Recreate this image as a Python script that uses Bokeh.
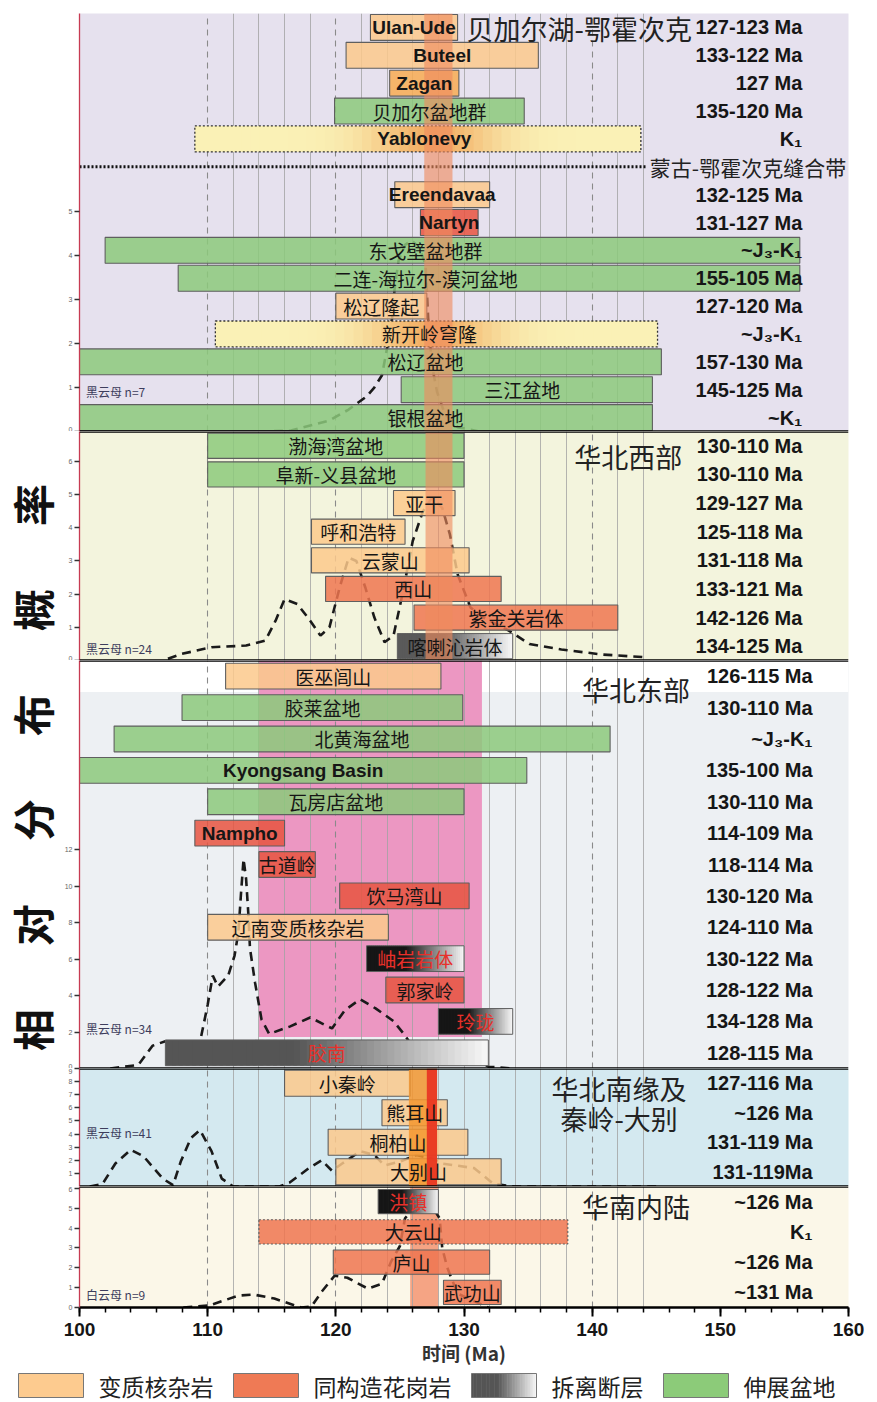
import math
from bokeh.plotting import figure
from bokeh.models import Range1d, LinearAxis, FixedTicker, BoxAnnotation, Span, Grid
from bokeh.layouts import column, row
from bokeh.core.properties import value
from bokeh.embed import file_html
from bokeh.resources import INLINE

CJK = "Noto Sans CJK SC"
LAT = "Liberation Sans"

# ---------------- data ----------------
# Panel 1: 贝加尔湖-鄂霍次克 / 蒙古
p1_names = ["Ulan-Ude", "Buteel", "Zagan", "贝加尔盆地群", "Yablonevy", "蒙古-鄂霍次克缝合带",
            "Ereendavaa", "Nartyn", "东戈壁盆地群", "二连-海拉尔-漠河盆地", "松辽隆起",
            "新开岭穹隆", "松辽盆地", "三江盆地", "银根盆地"]
p1_start = [122.7, 120.8, 124.2, 119.9, 109.0, 100.0, 124.6, 126.6, 102.0, 107.7, 120.0, 110.6, 100.0, 125.1, 100.0]
p1_end = [129.5, 135.8, 129.6, 134.7, 143.8, 144.3, 132.0, 131.1, 156.2, 156.2, 127.1, 145.1, 145.4, 144.7, 144.7]
p1_kind = ["mcc", "mcc", "mcc2", "basin", "dome", "suture", "mcc", "granite2", "basin", "basin",
           "mcc", "dome", "basin", "basin", "basin"]
p1_age = ["127-123 Ma", "133-122 Ma", "127 Ma", "135-120 Ma", "K₁", "", "132-125 Ma", "131-127 Ma",
          "~J₃-K₁", "155-105 Ma", "127-120 Ma", "~J₃-K₁", "157-130 Ma", "145-125 Ma", "~K₁"]
p1_dens_x = [114, 116.5, 119.5, 121, 122.4, 123.0, 123.6, 124.0, 124.4, 124.6, 124.9, 125.4, 125.9,
             126.5, 127.0, 127.2, 127.5, 127.9, 128.5, 129.5, 131.2]
p1_dens_y = [0, 0.02, 0.25, 0.5, 0.8, 1.0, 1.28, 1.9, 2.6, 3.3, 3.9, 4.25, 4.35, 4.2, 3.8, 2.6, 1.5,
             0.9, 0.4, 0.1, 0]

# Panel 2: 华北西部
p2_names = ["渤海湾盆地", "阜新-义县盆地", "亚干", "呼和浩特", "云蒙山", "西山", "紫金关岩体", "喀喇沁岩体"]
p2_start = [110.0, 110.0, 124.5, 118.1, 118.1, 119.2, 126.1, 124.8]
p2_end = [130.0, 130.0, 129.3, 125.4, 130.4, 132.9, 142.0, 133.8]
p2_kind = ["basin", "basin", "mcc", "mcc", "mcc", "granite", "granite", "detach"]
p2_age = ["130-110 Ma", "130-110 Ma", "129-127 Ma", "125-118 Ma", "131-118 Ma", "133-121 Ma",
          "142-126 Ma", "134-125 Ma"]
p2_dens_x = [106.9, 108, 110.3, 113, 114.5, 115.3, 116, 117, 118, 118.8, 119.5, 120.3, 121, 121.6,
             122.3, 123, 123.8, 124.5, 125.2, 126, 126.8, 127.5, 128.3, 128.9, 129.5, 130.5, 131.5,
             133.5, 135.1, 137.6, 140.8, 144.1]
p2_dens_y = [0.05, 0.2, 0.4, 0.45, 0.6, 1.2, 1.85, 1.7, 1.2, 0.75, 1.0, 2.2, 3.1, 3.0, 2.2, 1.3, 0.55,
             0.75, 2.0, 3.6, 4.5, 4.9, 4.6, 3.8, 2.6, 1.6, 1.3, 0.9, 0.5, 0.33, 0.18, 0.1]

# Panel 3: 华北东部
p3_names = ["医巫闾山", "胶莱盆地", "北黄海盆地", "Kyongsang Basin", "瓦房店盆地", "Nampho", "古道岭",
            "饮马湾山", "辽南变质核杂岩", "岫岩岩体", "郭家岭", "玲珑", "胶南"]
p3_start = [111.4, 108.0, 102.7, 100.0, 110.0, 109.0, 114.0, 120.3, 110.0, 122.4, 123.9, 128.0, 106.7]
p3_end = [128.2, 129.9, 141.4, 134.9, 130.0, 116.0, 118.4, 130.4, 124.1, 130.0, 130.0, 133.8, 131.9]
p3_kind = ["mcc", "basin", "basin", "basin", "basin", "granite2", "granite2", "granite2", "mcc",
           "detach_black", "granite2", "detach_black", "detach_red"]
p3_age = ["126-115 Ma", "130-110 Ma", "~J₃-K₁", "135-100 Ma", "130-110 Ma", "114-109 Ma",
          "118-114 Ma", "130-120 Ma", "124-110 Ma", "130-122 Ma", "128-122 Ma", "134-128 Ma",
          "128-115 Ma"]
p3_dens_x = [102.4, 104.6, 105.7, 106.7, 107.9, 109.3, 110.0, 110.4, 110.8, 111.6, 112.1, 112.4,
             112.6, 112.8, 113.0, 113.2, 113.3, 113.7, 114.2, 114.8, 116.4, 118.0, 119.7, 120.7,
             121.9, 123.1, 124.5, 125.3, 126.1, 127.4, 129.1, 130.7, 131.9, 133.9]
p3_dens_y = [0, 0.2, 1.25, 1.5, 0.65, 1.1, 3.5, 5.1, 4.5, 5.1, 6.2, 7.5, 9.6, 11.5, 10.4, 8.2, 6.6,
             4.7, 2.7, 1.9, 2.3, 2.8, 2.2, 3.2, 3.8, 3.3, 2.6, 1.9, 1.1, 0.8, 1.0, 0.65, 0.1, 0]

# Panel 4: 华北南缘及秦岭-大别
p4_names = ["小秦岭", "熊耳山", "桐柏山", "大别山"]
p4_start = [116.0, 123.6, 119.4, 120.0]
p4_end = [125.8, 128.7, 130.3, 132.9]
p4_kind = ["mcc", "mcc", "mcc", "mcc"]
p4_age = ["127-116 Ma", "~126 Ma", "131-119 Ma", "131-119Ma"]
p4_dens_x = [100.8, 101.8, 102.8, 104.0, 105.0, 106.5, 107.3, 107.9, 108.7, 109.4, 110.3, 111.1,
             112.0, 115.6, 116.4, 117.9, 118.9, 119.7, 120.5, 121.9, 123.0, 123.8, 125.0, 126.3,
             127.5, 128.3, 130.8, 132.3, 133.9, 145.0]
p4_dens_y = [0, 0.2, 1.75, 2.8, 2.3, 0.6, 0.1, 1.9, 3.7, 4.3, 2.7, 0.6, 0, 0, 0.3, 1.4, 2.0, 1.2,
             1.75, 2.7, 2.4, 1.6, 1.9, 2.4, 2.1, 1.75, 1.4, 0.2, 0, 0]

# Panel 5: 华南内陆
p5_names = ["洪镇", "大云山", "庐山", "武功山"]
p5_start = [123.3, 114.0, 119.8, 128.4]
p5_end = [128.0, 138.1, 132.0, 132.9]
p5_kind = ["detach_black", "granite_dot", "granite", "granite"]
p5_age = ["~126 Ma", "K₁", "~126 Ma", "~131 Ma"]
p5_dens_x = [108.1, 110.1, 112.4, 113.6, 115.2, 117.3, 118.1, 118.9, 119.9, 120.9, 122.5, 123.6,
             124.3, 125.0, 125.4, 126.2, 127.0, 127.6, 128.1, 128.3, 128.7, 129.5, 131.9]
p5_dens_y = [0, 0.1, 0.6, 0.65, 0.45, 0, 0.05, 0.8, 1.6, 1.5, 0.95, 1.2, 2.3, 3.1, 4.5, 5.1, 5.3,
             5.0, 4.5, 3.0, 2.0, 0.7, 0]

# time windows (Ma) highlighted in each panel
p1_band = [126.9, 129.1]
p2_band = [127.0, 129.1]
p3_band = [114.0, 131.4]
p4_band_orange = [125.7, 127.9]
p4_band_red = [127.1, 127.9]
p5_band = [125.8, 128.0]

legend_labels = ["变质核杂岩", "同构造花岗岩", "拆离断层", "伸展盆地"]
legend_kinds = ["mcc", "granite", "detach", "basin"]

x_major = list(range(100, 161, 10))
x_minor = list(range(100, 161, 2))

# ---------------- styles ----------------
FILL = {"mcc": "#FBC98C", "mcc2": "#F7AC52", "granite": "#EF7650", "granite2": "#E8543F",
        "basin": "#8CC97B", "granite_dot": "#EF7650"}
DARK = {"detach": "#5a5a5a", "detach_black": "#161616", "detach_red": "#555555"}
TXT_RED = "#E8302A"
XR = Range1d(100, 160)
LEFT_B = 18          # panel border left of the frame (small density axes)
LAB_W = 79 - LEFT_B  # width of the big rotated y label column


def mix(c1, c2, t):
    a = [int(c1[i:i + 2], 16) for i in (1, 3, 5)]
    b = [int(c2[i:i + 2], 16) for i in (1, 3, 5)]
    return "#%02x%02x%02x" % tuple(int(round(a[k] + (b[k] - a[k]) * t)) for k in range(3))


def detach_color(dark):
    def f(xc, t):
        if t < 0.4:
            return dark
        return mix(dark, "#F8F8F8", (t - 0.4) / 0.6)
    return f


def dome_color(xc, t):
    w = 0.9 * math.exp(-((xc - 127.6) / 5.0) ** 2)
    return mix("#FAF1B6", "#F2A85C", w)


def add_strips(p, yv, s, e, fn, h, n=48):
    w = (e - s) / n
    ls = [s + w * j for j in range(n)]
    rs = [s + w * (j + 1) + (w * 0.6 if j < n - 1 else 0) for j in range(n)]
    cs = [fn(s + w * (j + 0.5), (j + 0.5) / n) for j in range(n)]
    p.hbar(y=[yv] * n, left=ls, right=rs, height=h, fill_color=cs, line_color=None)


def make_panel(names, dens_top, ticks, frame_h, bg, top_border=0, bottom_border=0):
    n = len(names)
    p = figure(width=769 + LEFT_B + 21, height=frame_h + top_border + bottom_border, x_range=XR,
               y_range=Range1d(0, n), output_backend="svg", toolbar_location=None,
               x_axis_location=None, y_axis_location=None, min_border_left=LEFT_B,
               min_border_right=21, min_border_top=top_border, min_border_bottom=bottom_border,
               background_fill_color=bg, border_fill_color="white", outline_line_color=None)
    p.xgrid.visible = False
    p.ygrid.visible = False
    p.extra_y_ranges = {"dens": Range1d(0, dens_top)}
    g = Grid(dimension=0,
             ticker=FixedTicker(ticks=[110, 120, 140],
                                minor_ticks=[t for t in range(112, 146, 2) if t not in (120, 140)]),
             grid_line_color="#8a8a8a", grid_line_dash="6 5", grid_line_width=1.1,
             minor_grid_line_color="#a2a2a2", minor_grid_line_width=0.8)
    p.add_layout(g)
    ax = LinearAxis(y_range_name="dens", ticker=FixedTicker(ticks=ticks),
                    axis_line_color="#C73A52", axis_line_width=1.3,
                    major_tick_out=5, major_tick_in=0, major_tick_line_color="#333333",
                    major_tick_line_width=1.5, minor_tick_out=0, minor_tick_in=0,
                    major_label_text_font_size="7px", major_label_text_color="#666666",
                    major_label_standoff=2)
    p.add_layout(ax, "left")
    return p


def finish_panel(p, names, starts, ends, kinds, ages, dx, dy, dens_top, bar_h, age_x, titles,
                 nlabel, nlabel_y, clamp, over_bands, top_span, bottom_span):
    n = len(names)
    Y = [n - 1 - i + 0.5 for i in range(n)]  # row centres, first name on top
    # density curve
    p.line(dx, dy, y_range_name="dens", line_dash="9 6", line_width=2.6, line_color="#1a1a1a")
    # simple bars
    for kk, dash in (("solid", "solid"), ("dot", "2 2")):
        idx = [i for i, k in enumerate(kinds) if k in FILL and ((k == "granite_dot") == (kk == "dot"))]
        if idx:
            p.hbar(y=[Y[i] for i in idx], left=[starts[i] for i in idx],
                   right=[ends[i] for i in idx], height=bar_h,
                   fill_color=[FILL[kinds[i]] for i in idx], fill_alpha=0.85,
                   line_color="#5f5f5f", line_width=1.1, line_dash=dash)
    # gradient bars
    for i, k in enumerate(kinds):
        if k in DARK:
            add_strips(p, Y[i], starts[i], ends[i], detach_color(DARK[k]), bar_h)
            p.hbar(y=[Y[i]], left=[starts[i]], right=[ends[i]], height=bar_h,
                   fill_color=None, line_color="#5f5f5f", line_width=1)
        elif k == "dome":
            add_strips(p, Y[i], starts[i], ends[i], dome_color, bar_h)
            p.hbar(y=[Y[i]], left=[starts[i]], right=[ends[i]], height=bar_h,
                   fill_color=None, line_color="#333333", line_width=1.3, line_dash="2 2")
        elif k == "suture":
            p.segment(x0=[starts[i]], y0=[Y[i]], x1=[ends[i]], y1=[Y[i]],
                      line_color="#111111", line_width=3, line_dash="2 2")
            p.text(x=[ends[i] + 0.2], y=[Y[i]], text=[names[i]], text_align="left",
                   text_baseline="middle", text_font=value(CJK), text_font_size="21px",
                   text_color="#222222")
    # time-window bands drawn over the bars
    for (b0, b1, col, al) in over_bands:
        p.quad(left=[b0], right=[b1], bottom=[0], top=[dens_top], y_range_name="dens",
               fill_color=col, fill_alpha=al, line_color=None)
    # bar labels
    lat = {"x": [], "y": [], "t": [], "c": []}
    cjk = {"x": [], "y": [], "t": [], "c": []}
    for i, k in enumerate(kinds):
        if k == "suture":
            continue
        s, e = starts[i], ends[i]
        cx = (max(s, 110) + min(e, 144)) / 2 if clamp else (s + e) / 2
        col = TXT_RED if k in ("detach_black", "detach_red") else "#161616"
        d = lat if names[i].isascii() else cjk
        d["x"].append(cx); d["y"].append(Y[i]); d["t"].append(names[i]); d["c"].append(col)
    if lat["x"]:
        p.text(x=lat["x"], y=lat["y"], text=lat["t"], text_color=lat["c"], text_align="center",
               text_baseline="middle", text_font=value(LAT), text_font_style="bold",
               text_font_size="19px")
    if cjk["x"]:
        p.text(x=cjk["x"], y=cjk["y"], text=cjk["t"], text_color=cjk["c"], text_align="center",
               text_baseline="middle", text_font=value(CJK), text_font_size="19px")
    # age labels
    ai = [i for i, a in enumerate(ages) if a]
    p.text(x=[age_x] * len(ai), y=[Y[i] for i in ai], text=[ages[i] for i in ai],
           text_align="right", text_baseline="middle", text_font=value(LAT),
           text_font_style="bold", text_font_size="20px", text_color="#161616")
    # panel title(s)
    for (tt, tx, ty, ta) in titles:
        p.text(x=[tx], y=[ty], text=[tt], y_range_name="dens", text_font=value(CJK),
               text_font_size="27px", text_align=ta, text_baseline="middle",
               text_color="#222222")
    # mineral label
    p.text(x=[100.5], y=[nlabel_y], text=[nlabel], y_range_name="dens", text_font=value(CJK),
           text_font_size="12px", text_align="left", text_baseline="middle",
           text_color="#3d3d5c")
    if bottom_span:
        p.add_layout(Span(location=0, dimension="width", y_range_name="dens",
                          line_color="black", line_width=2.6))
    if top_span:
        p.add_layout(Span(location=dens_top, dimension="width", y_range_name="dens",
                          line_color="black", line_width=2.6))


# ---------- panel 1 ----------
p1 = make_panel(p1_names, 9.52, [0, 1, 2, 3, 4, 5], 418, "#E6E1EE", top_border=13)
finish_panel(p1, p1_names, p1_start, p1_end, p1_kind, p1_age, p1_dens_x, p1_dens_y, 9.52, 0.93,
             156.4, [("贝加尔湖-鄂霍次克", 130.2, 9.18, "left")], "黑云母 n=7", 0.9, True,
             [(p1_band[0], p1_band[1], "#EF8A5E", 0.62)], False, True)

# ---------- panel 2 ----------
p2 = make_panel(p2_names, 6.9, [0, 1, 2, 3, 4, 5, 6], 229, "#F3F4DD")
finish_panel(p2, p2_names, p2_start, p2_end, p2_kind, p2_age, p2_dens_x, p2_dens_y, 6.9, 0.88,
             156.4, [("华北西部", 138.6, 6.14, "left")], "黑云母 n=24", 0.36, False,
             [(p2_band[0], p2_band[1], "#EF8A5E", 0.62)], True, True)

# ---------- panel 3 ----------
p3 = make_panel(p3_names, 22.4, [0, 2, 4, 6, 8, 10, 12], 408, "#EDF0F3")
n3 = len(p3_names)
p3.add_layout(BoxAnnotation(bottom=n3 - 1, top=n3, fill_color="white", fill_alpha=1,
                            line_color=None, level="image"))
p3.add_layout(BoxAnnotation(left=p3_band[0], right=p3_band[1], bottom=1, top=n3,
                            fill_color="#EC97C2", fill_alpha=1, line_color=None, level="image"))
finish_panel(p3, p3_names, p3_start, p3_end, p3_kind, p3_age, p3_dens_x, p3_dens_y, 22.4, 0.82,
             157.2, [("华北东部", 139.2, 20.8, "left")], "黑云母 n=34", 2.2, False, [], True, True)

# ---------- panel 4 ----------
p4 = make_panel(p4_names, 9.0, [1, 2, 3, 4, 5, 6, 7, 8, 9], 118, "#D4E9F0")
finish_panel(p4, p4_names, p4_start, p4_end, p4_kind, p4_age, p4_dens_x, p4_dens_y, 9.0, 0.88,
             157.2, [("华北南缘及", 142.1, 7.5, "center"), ("秦岭-大别", 142.1, 5.2, "center")],
             "黑云母 n=41", 4.1, False,
             [(p4_band_orange[0], p4_band_orange[1], "#F5962F", 0.85),
              (p4_band_red[0], p4_band_red[1], "#E72B20", 0.85)], True, True)

# ---------- panel 5 ----------
p5 = make_panel(p5_names, 6.1, [0, 1, 2, 3, 4, 5, 6], 124, "#FBF7E8", bottom_border=58)
p5.add_layout(BoxAnnotation(left=p5_band[0], right=p5_band[1], fill_color="#F39572",
                            fill_alpha=0.85, line_color=None, level="image"))
finish_panel(p5, p5_names, p5_start, p5_end, p5_kind, p5_age, p5_dens_x, p5_dens_y, 6.1, 0.8,
             157.2, [("华南内陆", 139.2, 5.1, "left")], "白云母 n=9", 0.64, False, [], True, False)
xa = LinearAxis(ticker=FixedTicker(ticks=x_major, minor_ticks=x_minor), axis_label="时间 (Ma)",
                axis_line_color="black", axis_line_width=2.6,
                major_tick_out=9, major_tick_in=0, major_tick_line_width=2,
                minor_tick_out=5, minor_tick_in=0, minor_tick_line_width=1.5,
                major_label_text_font=LAT, major_label_text_font_style="bold",
                major_label_text_font_size="19px", major_label_text_color="#161616",
                major_label_standoff=6, axis_label_standoff=0,
                axis_label_text_font=CJK, axis_label_text_font_style="bold",
                axis_label_text_font_size="19px", axis_label_text_color="#333333")
p5.add_layout(xa, "below")

panels = [p1, p2, p3, p4, p5]
total_h = sum(p.height for p in panels)

# ---------- big y label ----------
lab = figure(width=LAB_W, height=total_h, x_range=Range1d(0, LAB_W), y_range=Range1d(0, total_h),
             output_backend="svg", toolbar_location=None, x_axis_location=None,
             y_axis_location=None, min_border=0, outline_line_color=None)
lab.xgrid.visible = False
lab.ygrid.visible = False
lab.text(x=[LAB_W / 2], y=[total_h - 767],
         text=["相\u3000\u2002对\u3000\u2002分\u3000\u2002布\u3000\u2002概\u3000\u2002率"],
         angle=math.pi / 2, text_align="center", text_baseline="middle",
         text_font=value(CJK), text_font_size="42px", text_font_style="bold",
         text_color="#111111")

# ---------- legend ----------
LEG_H = 34
leg = figure(width=877, height=LEG_H, x_range=Range1d(0, 877), y_range=Range1d(0, LEG_H),
             output_backend="svg", toolbar_location=None, x_axis_location=None,
             y_axis_location=None, min_border=0, outline_line_color=None)
leg.xgrid.visible = False
leg.ygrid.visible = False
LEG_FILL = {"mcc": "#FDCB8F", "granite": "#EF7A55", "basin": "#8CCB79"}
xpos = 18
sw, gap1, gap2, fs = 65, 15, 20, 23
yb, yt = 5, 29
for lbl, k in zip(legend_labels, legend_kinds):
    if k in LEG_FILL:
        leg.quad(left=[xpos], right=[xpos + sw], bottom=[yb], top=[yt], fill_color=LEG_FILL[k],
                 line_color="#777777", line_width=1)
    else:
        nn = 40
        w = sw / nn
        cs = [detach_color("#555555")(0, (j + 0.5) / nn) for j in range(nn)]
        leg.quad(left=[xpos + w * j for j in range(nn)],
                 right=[xpos + w * (j + 1) + (0.5 if j < nn - 1 else 0) for j in range(nn)],
                 bottom=[yb] * nn, top=[yt] * nn, fill_color=cs, line_color=None)
        leg.quad(left=[xpos], right=[xpos + sw], bottom=[yb], top=[yt], fill_color=None,
                 line_color="#777777", line_width=1)
    leg.text(x=[xpos + sw + gap1], y=[LEG_H / 2], text=[lbl], text_align="left",
             text_baseline="middle", text_font=value(CJK), text_font_size="%dpx" % fs,
             text_color="#222222")
    xpos = xpos + sw + gap1 + len(lbl) * fs + gap2

layout = column(row(lab, column(*panels)), leg)
open("out.html", "w").write(file_html(layout, INLINE))
